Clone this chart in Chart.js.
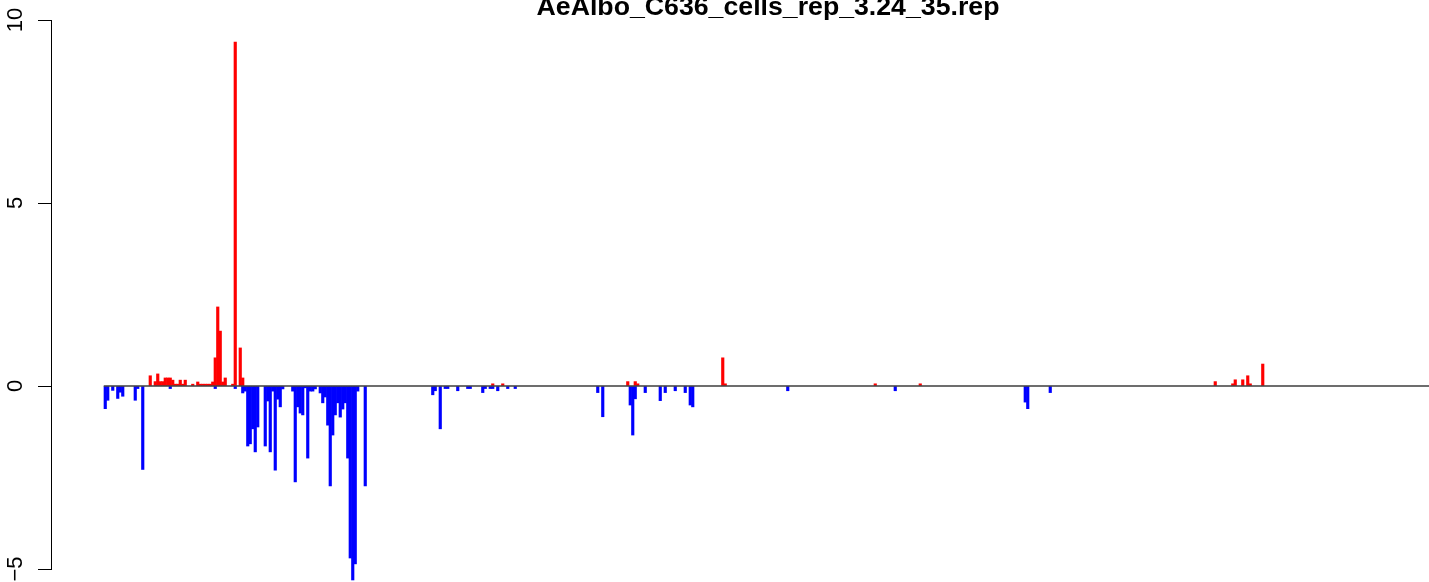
<!DOCTYPE html>
<html>
<head>
<meta charset="utf-8">
<script src="https://cdn.jsdelivr.net/npm/chart.js@4/dist/chart.umd.min.js"></script>
<style>
  html, body { margin: 0; padding: 0; background: #fff; }
  #wrap { width: 1429px; height: 582px; position: relative; }
</style>
</head>
<body>
<div id="wrap"><canvas id="repChart"></canvas></div>
<script>
const chartTitle = "AeAlbo_C636_cells_rep_3.24_35.rep";

// bin index along the sequence, and the value in that bin
const posBins = [18, 20, 21, 22, 23, 24, 25, 26, 27, 28, 29, 30, 31, 32, 35, 37, 38, 39, 40, 41, 42, 43,
  44, 45, 46, 47, 48, 51, 52, 54, 55, 155, 159, 209, 212, 213, 247, 248, 308, 326,
  444, 451, 452, 455, 457, 458, 463];
const posValues = [0.28, 0.12, 0.33, 0.12, 0.12, 0.22, 0.22, 0.22, 0.16, 0.05, 0.05, 0.16, 0.05, 0.16, 0.05, 0.11, 0.05, 0.05, 0.05, 0.05, 0.05, 0.11,
  0.77, 2.16, 1.5, 0.11, 0.22, 0.05, 9.4, 1.04, 0.22, 0.06, 0.06, 0.12, 0.12, 0.06, 0.77, 0.06, 0.06, 0.06,
  0.12, 0.06, 0.17, 0.17, 0.28, 0.06, 0.6];

const negBins = [0, 1, 3, 5, 6, 7, 12, 13, 15, 26, 44, 52, 55, 56, 57, 58, 59, 60, 61,
  64, 65, 66, 67, 68, 69, 70, 71, 75, 76, 77, 78, 79, 80, 81, 82, 83, 84,
  86, 87, 88, 89, 90, 91, 92, 93, 94, 95, 96, 97, 98, 99, 100, 101, 104,
  131, 132, 134, 136, 137, 141, 145, 146, 151, 152, 154, 155, 157, 161, 164,
  197, 199, 210, 211, 212, 216, 222, 224, 228, 232, 234, 235, 273, 316, 368, 369, 378];
const negValues = [-0.62, -0.39, -0.12, -0.34, -0.17, -0.28, -0.39, -0.07, -2.28, -0.07, -0.07, -0.07, -0.19, -0.14, -1.64, -1.58, -1.17, -1.8, -1.12,
  -1.64, -0.41, -1.8, -0.14, -2.3, -0.36, -0.57, -0.08, -0.14, -2.62, -0.57, -0.74, -0.79, -0.05, -1.97, -0.14, -0.14, -0.08,
  -0.19, -0.46, -0.3, -1.07, -2.73, -1.34, -0.79, -0.46, -0.85, -0.63, -0.46, -1.97, -4.7, -5.3, -4.86, -0.14, -2.73,
  -0.24, -0.13, -1.17, -0.07, -0.07, -0.13, -0.07, -0.07, -0.18, -0.07, -0.07, -0.07, -0.13, -0.07, -0.07,
  -0.18, -0.84, -0.52, -1.34, -0.35, -0.18, -0.4, -0.18, -0.13, -0.18, -0.52, -0.57, -0.13, -0.13, -0.44, -0.62, -0.18];

const yTicks = [-5, 0, 5, 10];
const baselineRange = [-0.6, 540];

const toPoints = (xs, ys) => xs.map((x, i) => ({ x: x, y: ys[i] }));

// R style title, sits half off the top of the page
const titlePlugin = {
  id: "rTitle",
  afterDraw(chart) {
    const ctx = chart.ctx;
    ctx.save();
    ctx.font = 'bold 26.7px "Liberation Sans", Arial, sans-serif';
    ctx.fillStyle = "#000";
    ctx.textAlign = "center";
    ctx.textBaseline = "alphabetic";
    ctx.fillText(chartTitle, 768, 15);
    ctx.restore();
  }
};

// rotated y tick labels like las=0 in R
const yLabelPlugin = {
  id: "rYLabels",
  afterDraw(chart) {
    const ctx = chart.ctx;
    const yScale = chart.scales.y;
    ctx.save();
    ctx.font = '22px "Liberation Sans", Arial, sans-serif';
    ctx.fillStyle = "#000";
    ctx.textAlign = "center";
    ctx.textBaseline = "alphabetic";
    yTicks.forEach(v => {
      const py = yScale.getPixelForValue(v);
      ctx.save();
      ctx.translate(22, py);
      ctx.rotate(-Math.PI / 2);
      ctx.fillText(String(v).replace("-", "\u2212"), 0, 0);
      ctx.restore();
    });
    ctx.restore();
  }
};

const chartElement = document.getElementById("repChart");
new Chart(chartElement, {
  type: "bar",
  data: {
    datasets: [
      {
        type: "line",
        label: "baseline",
        data: baselineRange.map(x => ({ x: x, y: 0 })),
        borderColor: "#3c3c3c",
        borderWidth: 1.3,
        pointRadius: 0,
        order: 0
      },
      {
        label: "up",
        data: toPoints(posBins, posValues),
        backgroundColor: "#FF0000",
        borderWidth: 0,
        barThickness: 2.5,
        clip: false,
        order: 1
      },
      {
        label: "down",
        data: toPoints(negBins, negValues),
        backgroundColor: "#0000FF",
        borderWidth: 0,
        barThickness: 2.5,
        clip: false,
        order: 1
      }
    ]
  },
  options: {
    responsive: true,
    maintainAspectRatio: false,
    animation: false,
    grouped: false,
    layout: { padding: { top: 20, bottom: 13, left: 0, right: 0 } },
    plugins: {
      legend: { display: false },
      tooltip: { enabled: false },
      title: { display: false }
    },
    scales: {
      x: {
        type: "linear",
        display: false,
        min: -21.7,
        max: 529.5,
        offset: false
      },
      y: {
        min: -5,
        max: 10,
        afterFit: (scale) => { scale.width = 51; },
        afterBuildTicks: (scale) => { scale.ticks = yTicks.map(v => ({ value: v })); },
        ticks: { display: false },
        grid: {
          drawOnChartArea: false,
          drawTicks: true,
          tickLength: 13,
          color: "#000",
          lineWidth: 1
        },
        border: { display: true, color: "#000", width: 1 }
      }
    }
  },
  plugins: [titlePlugin, yLabelPlugin]
});
</script>
</body>
</html>
